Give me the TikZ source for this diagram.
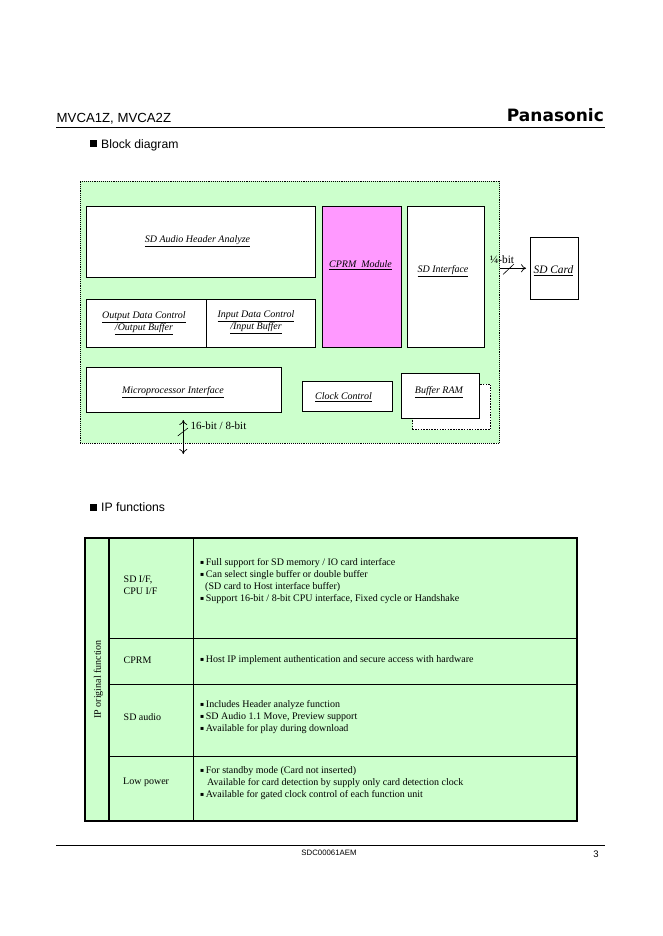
\documentclass[tikz,border=0pt]{standalone}
\usepackage{fontspec}
\setmainfont{Liberation Serif}
\newfontfamily\arialf{Liberation Sans}
\newfontfamily\dejavuf{DejaVu Sans}
\usetikzlibrary{arrows.meta,calc}
\definecolor{pgreen}{HTML}{CCFFCC}
\definecolor{pmag}{HTML}{FF99FF}
\newcommand{\bul}{\raisebox{1.2pt}{\dejavuf\fontsize{6}{6}\selectfont ▪}\,}
\tikzset{
  x=1pt,y=-1pt,
  blk/.style={draw=black,line width=0.8pt,fill=white,inner sep=0pt},
  lbl/.style={inner sep=0pt,font=\fontsize{10}{12}\selectfont\itshape,align=center},
  sans/.style={inner sep=0pt,anchor=base west,font=\arialf\fontsize{12.2}{14}\selectfont},
  cell/.style={inner sep=0pt,font=\fontsize{10}{12}\selectfont,align=left,anchor=west},
  cellbox/.style={draw=black,line width=0.7pt,fill=pgreen,inner sep=0pt},
  thick frame/.style={draw=black,line width=2pt},
  opent/.style={-{To[length=5pt,width=8pt]},line width=0.7pt},
}
\begin{document}
\begin{tikzpicture}
\useasboundingbox (0,0) rectangle (662,936);
\fill[white] (0,0) rectangle (662,936);
% header
\node[sans,font=\arialf\fontsize{13.2}{14}\selectfont] (title) at (56.5,122.5) {MVCA1Z, MVCA2Z};
\node[inner sep=0pt,anchor=base east,font=\dejavuf\bfseries\fontsize{17}{17}\selectfont] (logo) at (604,122) {Panasonic};
\coordinate (hl) at (56,127.3); \coordinate (hr) at (604.5,127.3);
\draw[line width=0.8pt] (hl) -- (hr);
\node[inner sep=0pt,fill=black,minimum size=7pt] (bk1) at (93,144) {};
\node[sans] (sec1) at (101,148.5) {Block diagram};
% outer area
\node[draw=black,densely dotted,line width=0.9pt,fill=pgreen,inner sep=0pt,minimum width=419.5pt,minimum height=262pt] (area) at (290,312) {};
% blocks
\node[blk,minimum width=229pt,minimum height=70.5pt] (audio) at (201,241.75) {};
\node[lbl] at (197.5,241) {\underline{SD Audio Header Analyze}};
\node[blk,minimum width=120pt,minimum height=48pt] (outb) at (146.5,323.5) {};
\node[lbl] at (144,323.5) {\underline{Output Data Control}\\\underline{/Output Buffer}};
\node[blk,minimum width=109pt,minimum height=48pt] (inb) at (261,323.5) {};
\node[lbl] at (256,322.5) {\underline{Input Data Control}\\\underline{/Input Buffer}};
\node[blk,minimum width=195pt,minimum height=45.5pt] (micro) at (184,389.75) {};
\node[lbl] at (173,392.5) {\underline{Microprocessor Interface}};
\node[blk,minimum width=90pt,minimum height=30.5pt] (clock) at (347.5,396.25) {};
\node[lbl] at (343.5,397) {\underline{Clock Control}};
\node[blk,fill=pmag,minimum width=79pt,minimum height=141pt] (cprm) at (362,277) {};
\node[lbl] at (360.5,265) {\underline{CPRM\ \ Module}};
\node[blk,minimum width=77pt,minimum height=141pt] (sdif) at (446,277) {};
\node[lbl] at (443,271.5) {\underline{SD Interface}};
\node[draw=black,dash pattern=on 1.5pt off 1.2pt,line width=0.4pt,fill=white,inner sep=0pt,minimum width=78pt,minimum height=45.5pt] (ram2) at (451.5,406.75) {};
\node[blk,minimum width=78pt,minimum height=45pt] (ram) at (440.5,396) {};
\node[lbl] at (439,392.5) {\underline{Buffer RAM}};
\node[blk,minimum width=48.5pt,minimum height=61.5pt] (card) at (554.25,268.25) {};
\node[lbl,font=\fontsize{11.4}{12}\selectfont\itshape] at (553.5,270.5) {\underline{SD Card}};
% connectors
\coordinate (areaout) at (area.east |- card.west);
\draw[opent] (areaout) -- ($(card.west)+(-3.5,0)$);
\coordinate (s1a) at (503,274.5); \coordinate (s1b) at (514,264);
\draw[line width=0.6pt] (s1a) -- (s1b);
\node[inner sep=0pt,font=\fontsize{11.3}{12}\selectfont] (w4) at (502,259.5) {¼-bit};
\coordinate (bus1) at (183.3,420); \coordinate (bus2) at (183.3,454);
\draw[{To[length=5pt,width=8pt]}-{To[length=5pt,width=8pt]},line width=0.7pt] (bus1) -- (bus2);
\coordinate (s2a) at (177.7,436); \coordinate (s2b) at (188,428);
\draw[line width=0.6pt] (s2a) -- (s2b);
\node[inner sep=0pt,anchor=west,font=\fontsize{11}{12}\selectfont] (w16) at (190.5,425.5) {16-bit / 8-bit};
% section 2
\node[inner sep=0pt,fill=black,minimum size=7pt] (bk2) at (93,507) {};
\node[sans] (sec2) at (101,511) {IP functions};
% table
\node[cellbox,minimum width=24pt,minimum height=282.5pt] (c0) at (97,679.25) {};
\node[inner sep=0pt,rotate=90,font=\fontsize{10}{12}\selectfont] (ip) at (98.5,679.5) {IP original function};
\node[cellbox,minimum width=84.5pt,minimum height=100.5pt] (a1) at (151.25,588.25) {};
\node[cellbox,minimum width=84.5pt,minimum height=46pt] (a2) at (151.25,661.5) {};
\node[cellbox,minimum width=84.5pt,minimum height=72pt] (a3) at (151.25,720.5) {};
\node[cellbox,minimum width=84.5pt,minimum height=64pt] (a4) at (151.25,788.5) {};
\node[cellbox,minimum width=383.5pt,minimum height=100.5pt] (b1) at (385.25,588.25) {};
\node[cellbox,minimum width=383.5pt,minimum height=46pt] (b2) at (385.25,661.5) {};
\node[cellbox,minimum width=383.5pt,minimum height=72pt] (b3) at (385.25,720.5) {};
\node[cellbox,minimum width=383.5pt,minimum height=64pt] (b4) at (385.25,788.5) {};
\draw[thick frame] (c0.north west) rectangle (b4.south east);
\draw[thick frame] (a1.north west) -- (a4.south west);
\node[cell] at (123.5,585.5) {SD I/F,\\CPU I/F};
\node[cell] at (123.5,660.5) {CPRM};
\node[cell] at (123.5,717) {SD audio};
\node[cell] at (123,782.5) {Low power};
\node[cell] at (200,581.5) {\bul Full support for SD memory / IO card interface\\\bul Can select single buffer or double buffer\\\hspace{5pt}(SD card to Host interface buffer)\\\bul Support 16-bit / 8-bit CPU interface, Fixed cycle or Handshake};
\node[cell] at (200,660) {\bul Host IP implement authentication and secure access with hardware};
\node[cell] at (200,717) {\bul Includes Header analyze function\\\bul SD Audio 1.1 Move, Preview support\\\bul Available for play during download};
\node[cell] at (200,783) {\bul For standby mode (Card not inserted)\\\hspace{7pt}Available for card detection by supply only card detection clock\\\bul Available for gated clock control of each function unit};
% footer
\coordinate (fl) at (56,845.5); \coordinate (fr) at (604.5,845.5);
\draw[line width=0.8pt] (fl) -- (fr);
\node[inner sep=0pt,font=\arialf\fontsize{7.8}{8}\selectfont] (code) at (329,853) {SDC00061AEM};
\node[inner sep=0pt,font=\arialf\fontsize{9.5}{10}\selectfont] (pg) at (596,854) {3};
\end{tikzpicture}
\end{document}
